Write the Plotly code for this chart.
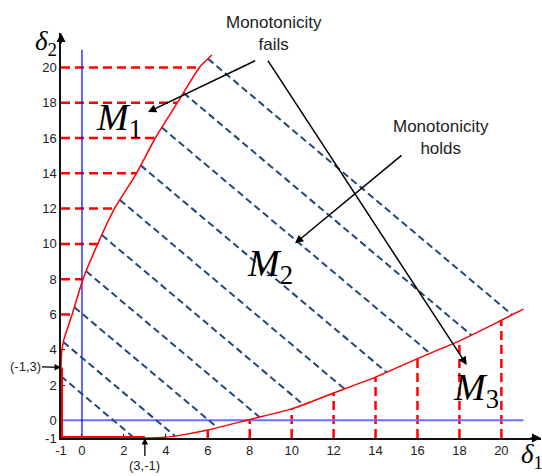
import numpy as np
import plotly.graph_objects as go

# ---- data ----
left_curve_x = [-1.0, -0.97, -0.88, -0.47, 0.05, 0.75, 1.55, 2.6, 3.5, 4.55, 5.6, 6.2]
left_curve_y = [3.0, 3.8, 4.5, 6.0, 8.0, 10.0, 12.0, 14.0, 16.0, 18.0, 20.0, 20.7]
bottom_curve_x = [3.0, 3.8, 4.5, 6.0, 8.0, 10.0, 12.0, 14.0, 16.0, 18.0, 20.0, 21.05]
bottom_curve_y = [-1.0, -0.97, -0.88, -0.55, 0.05, 0.65, 1.55, 2.45, 3.5, 4.5, 5.67, 6.3]
corner = (-1.0, -1.0)
level_sums = [1.5, 3.55, 6.05, 8.65, 11.45, 14.3, 17.25, 20.4, 23.4, 26.5]   # x+y=c dashed lines
h_levels = [6, 8, 10, 12, 14, 16, 18, 20]
v_levels = [6, 8, 10, 12, 14, 16, 18, 20]
tick_vals = [-1, 0, 2, 4, 6, 8, 10, 12, 14, 16, 18, 20]
blue_h_end = 21.05
blue_v_end = 21.0

RED = "#FF0000"
NAVY = "#1F497D"

def cross(px, py, c):
    px = np.asarray(px); py = np.asarray(py)
    s = px + py
    for i in range(len(s) - 1):
        if s[i] <= c <= s[i + 1]:
            t = (c - s[i]) / (s[i + 1] - s[i])
            return px[i] + t * (px[i + 1] - px[i]), py[i] + t * (py[i + 1] - py[i])
    return px[-1], py[-1]

lb_x = [corner[0]] + left_curve_x
lb_y = [corner[1]] + left_curve_y
bb_x = [corner[0]] + bottom_curve_x
bb_y = [corner[1]] + bottom_curve_y

fig = go.Figure()

# red dashed horizontals
hx, hy = [], []
for yv in h_levels:
    xe = float(np.interp(yv, left_curve_y, left_curve_x))
    hx += [corner[0], xe, None]; hy += [yv, yv, None]
fig.add_trace(go.Scatter(x=hx, y=hy, mode="lines",
                         line=dict(color=RED, width=2.5, dash="9px,5px"), hoverinfo="skip"))
# red dashed verticals
vx, vy = [], []
for xv in v_levels:
    ye = float(np.interp(xv, bottom_curve_x, bottom_curve_y))
    vx += [xv, xv, None]; vy += [corner[1], ye, None]
fig.add_trace(go.Scatter(x=vx, y=vy, mode="lines",
                         line=dict(color=RED, width=2.5, dash="9px,5px"), hoverinfo="skip"))

# blue solid reference lines
fig.add_trace(go.Scatter(x=[corner[0], blue_h_end], y=[0, 0], mode="lines",
                         line=dict(color="#6E6EFF", width=2), hoverinfo="skip"))
fig.add_trace(go.Scatter(x=[0, 0], y=[corner[1], blue_v_end], mode="lines",
                         line=dict(color="#0000FF", width=1.2), hoverinfo="skip"))

# navy dashed level lines
dx, dy = [], []
for c in level_sums:
    x0, y0 = cross(lb_x, lb_y, c)
    x1, y1 = cross(bb_x, bb_y, c)
    dx += [x0, x1, None]; dy += [y0, y1, None]
fig.add_trace(go.Scatter(x=dx, y=dy, mode="lines",
                         line=dict(color=NAVY, width=2, dash="7px,4px"), hoverinfo="skip"))

# red boundaries
fig.add_trace(go.Scatter(x=left_curve_x, y=left_curve_y, mode="lines",
                         line=dict(color=RED, width=1.5, shape="spline", smoothing=0.6),
                         hoverinfo="skip"))
fig.add_trace(go.Scatter(x=bottom_curve_x, y=bottom_curve_y, mode="lines",
                         line=dict(color=RED, width=1.5, shape="spline", smoothing=0.6),
                         hoverinfo="skip"))
fig.add_trace(go.Scatter(x=[corner[0], corner[0]], y=[corner[1], left_curve_y[0]], mode="lines",
                         line=dict(color=RED, width=4), hoverinfo="skip"))
fig.add_trace(go.Scatter(x=[corner[0], bottom_curve_x[0]], y=[corner[1], corner[1]], mode="lines",
                         line=dict(color=RED, width=4), hoverinfo="skip"))

XR = [-1, 21.89]
YR = [-1, 21.95]

ann = []
tf = dict(family="Liberation Sans, Arial", size=17, color="#222")
ann.append(dict(x=9.16, y=21.95, text="Monotonicity<br>fails", showarrow=False, font=tf))
ann.append(dict(x=17.12, y=16.05, text="Monotonicity<br>holds", showarrow=False, font=tf))
arrows = [((3.15, 17.47), (8.33, 20.42)),
          ((18.35, 3.14), (8.82, 20.47)),
          ((10.16, 10.03), (15.31, 15.09))]
for (hx_, hy_), (tx, ty) in arrows:
    ann.append(dict(x=hx_, y=hy_, ax=tx, ay=ty, axref="x", ayref="y", text="",
                    showarrow=True, arrowhead=2, arrowsize=1.1, arrowwidth=1.5,
                    arrowcolor="black", standoff=0))
mf = dict(family="Liberation Serif, Times New Roman", size=38, color="black")
ann.append(dict(x=1.77, y=17.02, text="<i>M</i><sub>1</sub>", showarrow=False, font=mf))
ann.append(dict(x=8.97, y=8.75, text="<i>M</i><sub>2</sub>", showarrow=False, font=mf))
ann.append(dict(x=18.79, y=1.72, text="<i>M</i><sub>3</sub>", showarrow=False, font=mf))
df = dict(family="Liberation Serif, Times New Roman", size=27, color="black")
ann.append(dict(x=-0.031, y=0.975, xref="paper", yref="paper", xanchor="center", yanchor="middle",
                text="<i>δ</i><sub>2</sub>", showarrow=False, font=df))
ann.append(dict(x=0.981, y=-0.045, xref="paper", yref="paper", xanchor="center", yanchor="middle",
                text="<i>δ</i><sub>1</sub>", showarrow=False, font=df))
pf = dict(family="Liberation Sans, Arial", size=13, color="#222")
ann.append(dict(x=-1, y=3, ax=-36, ay=-1, text="(-1,3)", showarrow=True, arrowhead=2,
                arrowsize=1, arrowwidth=1.3, arrowcolor="black", standoff=0, font=pf))
ann.append(dict(x=3, y=-1, ax=0, ay=27, text="(3,-1)", showarrow=True, arrowhead=2,
                arrowsize=1, arrowwidth=1.3, arrowcolor="black", standoff=0, font=pf))
# axis arrowheads
ann.append(dict(x=XR[1], y=-1, ax=-12, ay=0, text="", showarrow=True, arrowhead=2,
                arrowsize=1.2, arrowwidth=1.5, arrowcolor="black", standoff=0))
ann.append(dict(x=-1, y=YR[1], ax=0, ay=12, text="", showarrow=True, arrowhead=2,
                arrowsize=1.2, arrowwidth=1.5, arrowcolor="black", standoff=0))

axis_common = dict(showgrid=False, zeroline=False, showline=True, linecolor="#111", linewidth=1.5,
                   ticks="inside", ticklen=4, tickcolor="#111", tickvals=tick_vals,
                   ticktext=[str(v) for v in tick_vals],
                   tickfont=dict(family="Liberation Sans, Arial", size=13, color="#222"),
                   fixedrange=True, layer="below traces")
fig.update_layout(
    width=542, height=476,
    margin=dict(l=61, r=1, t=33, b=38),
    paper_bgcolor="white", plot_bgcolor="white",
    showlegend=False,
    xaxis=dict(range=XR, **axis_common),
    yaxis=dict(range=YR, **axis_common),
    annotations=ann,
)
fig.write_html("out.html")
